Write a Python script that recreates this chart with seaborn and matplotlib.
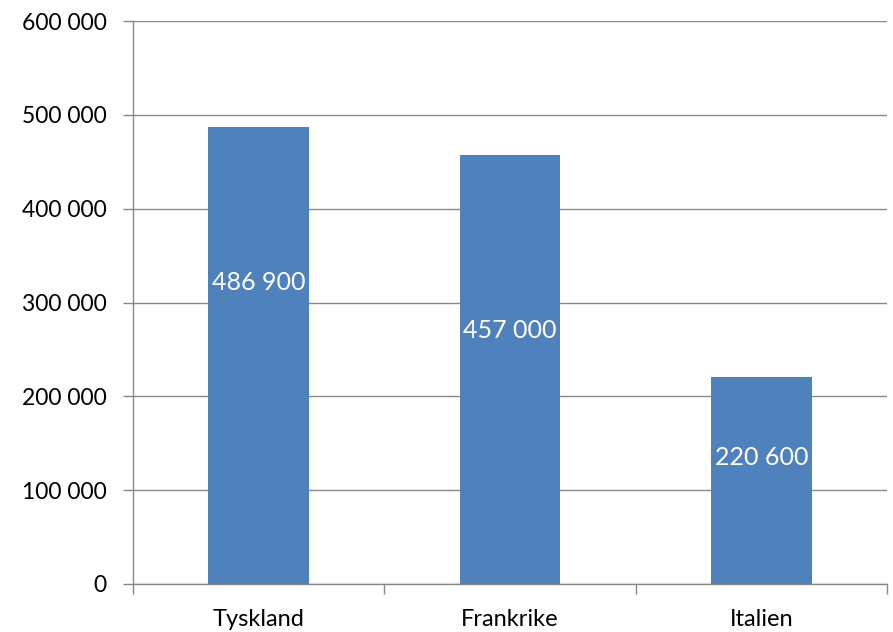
import seaborn as sns
import matplotlib.pyplot as plt
import pandas as pd
from matplotlib.ticker import FuncFormatter, FixedLocator

countries = ['Tyskland', 'Frankrike', 'Italien']
values = [486900, 457000, 220600]
labels = ['486 900', '457 000', '220 600']
# where the label sits inside each bar, as a share of the bar height
label_share = [0.66, 0.59, 0.61]

df = pd.DataFrame({'land': countries, 'antal': values})

sns.set_style('white')
plt.rcParams['font.family'] = ['Lato', 'DejaVu Sans']
plt.rcParams['text.color'] = 'black'
plt.rcParams['xtick.color'] = 'black'
plt.rcParams['ytick.color'] = 'black'

fig = plt.figure(figsize=(8.93, 6.32), dpi=100)
ax = fig.add_axes([133 / 893, 48 / 632, 754 / 893, 563 / 632])

sns.barplot(data=df, x='land', y='antal', color='#4F81BD', saturation=1,
            width=0.4, linewidth=0, ax=ax)

# data labels, white, inside each bar
for i, (v, lab, s) in enumerate(zip(values, labels, label_share)):
    ax.text(i, v * s, lab, color='white', ha='center', va='center', fontsize=18)

ax.set_ylim(0, 600000)
ax.set_xlim(-0.5, 2.5)
ax.set_yticks(range(0, 600001, 100000))
ax.yaxis.set_major_formatter(FuncFormatter(lambda v, p: f'{int(v):,}'.replace(',', ' ')))
ax.set_xlabel('')
ax.set_ylabel('')

ax.grid(axis='y', color='#888888', linewidth=1.0)
ax.set_axisbelow(True)
for s in ['top', 'right']:
    ax.spines[s].set_visible(False)
for s in ['left', 'bottom']:
    ax.spines[s].set_color('#888888')
    ax.spines[s].set_linewidth(1.0)

ax.tick_params(axis='y', length=7, color='#888888', width=1.0, labelsize=16.5, pad=12, left=True)
ax.tick_params(axis='x', which='major', length=0, labelsize=17, pad=18)
ax.xaxis.set_minor_locator(FixedLocator([-0.5, 0.5, 1.5, 2.5]))
ax.tick_params(axis='x', which='minor', length=7, color='#888888', width=1.0, bottom=True)

fig.savefig('out.png', dpi=100)
